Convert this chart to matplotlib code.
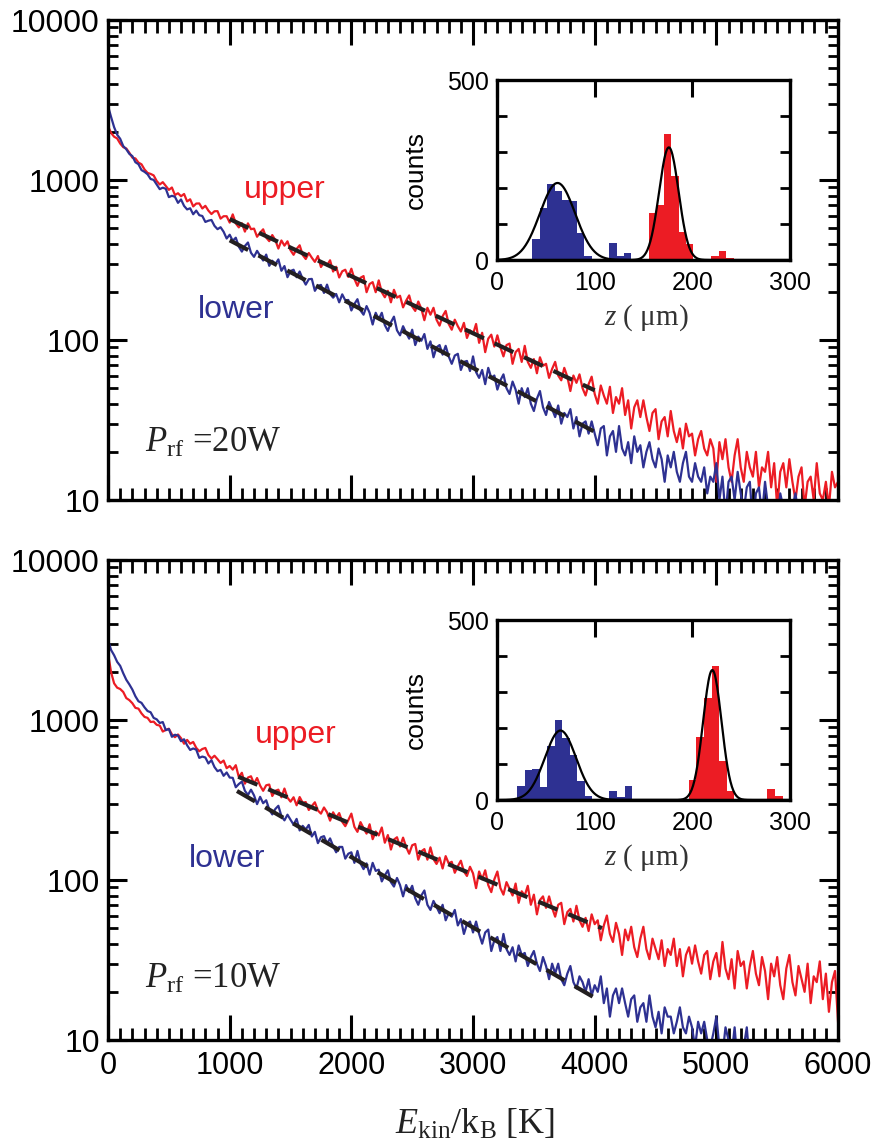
import numpy as np
import matplotlib
matplotlib.use("Agg")
import matplotlib.pyplot as plt
from matplotlib.ticker import FixedLocator, FixedFormatter, MultipleLocator, LogLocator, NullFormatter

plt.rcParams['font.family'] = ['Liberation Sans', 'DejaVu Sans']
plt.rcParams['mathtext.fontset'] = 'custom'
plt.rcParams['mathtext.rm'] = 'Liberation Serif'
plt.rcParams['mathtext.it'] = 'Liberation Serif:italic'

RED = '#ec1c24'
BLUE = '#2e3192'
DASH = '#231f20'

# kinetic energy axis, one reading every 25 K
energy = np.arange(0, 6001, 25)

# P_rf = 20 W
upper_20 = [2170, 1970, 1865, 1820, 1690, 1605, 1575, 1482, 1380, 1364,
            1286, 1254, 1164, 1108, 1092, 1069, 986, 938, 970, 917,
            868, 898, 806, 827, 792, 818, 735, 758, 684, 713,
            714, 664, 690, 644, 613, 638, 639, 574, 594, 594,
            542, 610, 536, 506, 537, 476, 536, 493, 497, 442,
            469, 492, 437, 415, 453, 421, 373, 419, 389, 414,
            364, 341, 371, 391, 340, 321, 350, 327, 308, 335,
            286, 306, 293, 315, 268, 287, 246, 269, 275, 248,
            279, 241, 218, 245, 251, 199, 224, 230, 199, 236,
            199, 185, 203, 172, 206, 184, 189, 160, 176, 190,
            162, 152, 174, 157, 133, 159, 144, 159, 134, 123,
            141, 152, 126, 116, 134, 122, 113, 128, 103, 115,
            109, 126, 96, 111, 84, 102, 108, 91, 107, 90,
            79, 93, 95, 71, 84, 88, 73, 92, 73, 67,
            76, 62, 78, 69, 71, 58, 66, 73, 60, 56,
            67, 59, 48, 60, 54, 61, 50, 45, 53, 59,
            46, 40, 52, 45, 40, 51, 35, 44, 40, 50,
            34, 42, 28, 38, 42, 33, 42, 33, 27, 35,
            37, 24, 31, 33, 25, 36, 27, 23, 28, 21,
            30, 25, 26, 19, 24, 27, 21, 19, 24, 21,
            13, 23, 18, 24, 16, 13, 19, 24, 16, 13,
            20, 16, 14, 20, 12, 16, 15, 20, 12, 17,
            9, 15, 17, 12, 18, 13, 10, 14, 16, 9,
            13, 14, 10, 17, 11, 10, 13, 9, 15, 12,
            13]
lower_20 = [2900, 2480, 2140, 1920, 1810, 1630, 1557, 1458, 1411, 1292,
            1256, 1154, 1125, 1086, 1015, 1002, 937, 877, 896, 881,
            782, 797, 786, 720, 756, 689, 655, 666, 611, 644,
            603, 596, 547, 557, 563, 517, 493, 507, 475, 431,
            455, 417, 436, 383, 357, 387, 407, 351, 331, 361,
            336, 314, 342, 291, 313, 298, 319, 271, 290, 247,
            270, 275, 247, 268, 241, 222, 240, 241, 203, 218,
            221, 197, 222, 194, 184, 194, 172, 193, 177, 178,
            153, 168, 180, 153, 144, 163, 148, 125, 148, 135,
            148, 124, 114, 129, 140, 115, 107, 122, 111, 102,
            116, 93, 105, 99, 109, 88, 98, 78, 90, 93,
            81, 92, 79, 71, 80, 82, 65, 73, 74, 64,
            79, 63, 58, 65, 53, 67, 58, 60, 49, 56,
            61, 50, 46, 55, 49, 40, 50, 44, 50, 40,
            36, 43, 48, 38, 34, 41, 37, 33, 39, 30,
            35, 33, 37, 28, 33, 25, 30, 31, 26, 31,
            26, 22, 28, 29, 19, 25, 27, 20, 29, 21,
            19, 23, 17, 25, 20, 22, 16, 20, 23, 18,
            16, 21, 18, 13, 19, 16, 20, 15, 13, 17,
            20, 14, 13, 17, 14, 13, 16, 11, 14, 13,
            17, 10, 14, 8, 13, 14, 10, 15, 11, 8.5,
            12, 13, 7, 11, 12, 8, 13, 9, 8, 10,
            7, 11, 9, 10, 7, 9, 11, 8, 7, 10,
            8, 5, 9, 8, 10, 7, 5, 8, 10, 7,
            6]

# P_rf = 10 W
upper_10 = [2610, 1990, 1695, 1593, 1562, 1497, 1371, 1332, 1273, 1191,
            1178, 1100, 1046, 1031, 972, 977, 933, 923, 847, 867,
            882, 813, 781, 812, 770, 711, 751, 711, 729, 670,
            638, 659, 669, 604, 575, 598, 569, 539, 558, 500,
            516, 490, 522, 440, 468, 400, 437, 445, 400, 434,
            389, 361, 391, 395, 335, 361, 367, 329, 373, 327,
            309, 329, 293, 330, 304, 307, 274, 290, 306, 272,
            260, 284, 265, 235, 265, 246, 262, 231, 217, 237,
            260, 215, 200, 230, 211, 195, 223, 180, 201, 190,
            213, 171, 191, 155, 179, 185, 162, 184, 161, 146,
            165, 168, 134, 151, 156, 134, 160, 135, 126, 138,
            118, 141, 127, 130, 111, 122, 132, 113, 106, 121,
            110, 89, 113, 101, 115, 93, 84, 101, 113, 89,
            81, 97, 88, 80, 95, 72, 85, 80, 92, 70,
            81, 61, 75, 79, 67, 79, 67, 59, 70, 72,
            53, 63, 66, 55, 69, 56, 51, 58, 48, 61,
            53, 56, 42, 52, 60, 46, 41, 54, 46, 34,
            49, 42, 51, 38, 33, 43, 51, 37, 32, 43,
            37, 32, 42, 29, 37, 34, 43, 29, 37, 25,
            34, 38, 30, 39, 31, 26, 34, 36, 24, 31,
            35, 25, 41, 28, 24, 32, 21, 36, 29, 31,
            21, 29, 36, 26, 22, 33, 27, 18, 30, 25,
            33, 22, 18, 28, 34, 23, 19, 29, 24, 20,
            30, 17, 25, 23, 31, 18, 26, 15, 23, 27,
            13]
lower_10 = [3170, 2740, 2540, 2310, 2180, 1960, 1785, 1670, 1550, 1407,
            1310, 1280, 1200, 1138, 1118, 1031, 1010, 958, 971, 864,
            879, 785, 809, 800, 737, 758, 695, 650, 664, 653,
            580, 591, 583, 535, 561, 508, 479, 488, 448, 470,
            437, 435, 380, 398, 412, 361, 340, 367, 338, 298,
            331, 302, 315, 276, 257, 278, 291, 251, 236, 256,
            238, 222, 241, 204, 218, 207, 221, 187, 200, 170,
            185, 188, 169, 182, 163, 149, 161, 161, 136, 146,
            149, 128, 152, 127, 117, 127, 108, 128, 114, 116,
            98, 107, 115, 97, 91, 103, 93, 79, 93, 84,
            92, 77, 70, 80, 86, 70, 65, 74, 68, 62,
            70, 56, 62, 59, 65, 52, 57, 46, 53, 55,
            47, 55, 46, 40, 47, 49, 36, 42, 44, 36,
            46, 37, 34, 38, 31, 39, 34, 35, 29, 33,
            36, 30, 27, 33, 29, 24, 30, 26, 30, 24,
            22, 26, 29, 23, 21, 25, 23, 20, 24, 19,
            22, 20, 25, 17, 21, 14, 19, 21, 17, 21,
            17, 14, 18, 19, 13, 16, 17, 13, 19, 14,
            12, 15, 11, 16, 14, 14, 11, 13, 16, 12,
            11, 14, 12, 9, 13, 11, 13, 10, 9, 11,
            14, 9, 8, 12, 10, 8, 12, 7, 10, 9,
            12, 7, 10, 6, 9, 10, 7, 10, 8, 6,
            8, 9, 5, 8, 8, 6, 9, 6, 5, 7,
            5, 8, 6, 7, 5, 6, 8, 6, 5, 7,
            6]

# exponential fits (end points)
fit_upper_20 = ([1000, 4000], [570, 48.5])
fit_lower_20 = ([1000, 4050], [420, 25.5])
fit_upper_10 = ([1070, 4060], [442, 50])
fit_lower_10 = ([1060, 4020], [360, 18])

# inset histograms of z position (bin left edges in um, counts)
bin_w = 7.7
hist_blue_20_left = [36.0, 43.6, 51.2, 58.8, 66.4, 74.0, 81.6, 89.2, 114.8, 122.4, 130.0]
hist_blue_20 = [58, 144, 211, 191, 168, 163, 76, 11, 48, 11, 20]
hist_red_20_left = [155.5, 163.1, 170.7, 178.3, 185.9, 193.5, 219.4, 227.1, 234.8]
hist_red_20 = [132, 152, 349, 234, 78, 45, 11, 25, 6]
hist_blue_10_left = [20.5, 28.2, 35.9, 43.6, 51.3, 59.0, 66.7, 74.4, 82.1, 89.8, 115.2, 122.9, 130.6]
hist_blue_10 = [40, 83, 87, 36, 150, 223, 172, 125, 53, 12, 25, 9, 40]
hist_red_10_left = [196.6, 204.3, 212.0, 219.7, 227.4, 235.1, 277.0, 284.7]
hist_red_10 = [55, 175, 283, 372, 107, 24, 30, 10]

# gaussian fits: (amplitude, centre, sigma)
gauss_blue_20 = (214, 62, 18)
gauss_red_20 = (313, 176, 10)
gauss_blue_10 = (193, 65, 16)
gauss_red_10 = (361, 220.5, 9.4)


def style_main(ax, show_xlabels):
    ax.set_yscale('log')
    ax.set_xlim(0, 6000)
    ax.set_ylim(10, 10000)
    ax.xaxis.set_major_locator(MultipleLocator(1000))
    ax.xaxis.set_minor_locator(MultipleLocator(100))
    ax.yaxis.set_major_locator(FixedLocator([10, 100, 1000, 10000]))
    ax.yaxis.set_major_formatter(FixedFormatter(['10', '100', '1000', '10000']))
    ax.yaxis.set_minor_locator(LogLocator(base=10, subs=np.arange(2, 10)))
    ax.yaxis.set_minor_formatter(NullFormatter())
    ax.tick_params(axis='x', which='major', direction='in', top=True, bottom=True,
                   length=18, width=2.2, labelsize=22, pad=8, labelbottom=show_xlabels)
    ax.tick_params(axis='x', which='minor', direction='in', top=True, bottom=True,
                   length=9, width=2.0)
    ax.tick_params(axis='y', which='major', direction='in', left=True, right=True,
                   length=14, width=2.2, labelsize=23, pad=6)
    ax.tick_params(axis='y', which='minor', direction='in', left=True, right=True,
                   length=7, width=2.0)
    for s in ax.spines.values():
        s.set_linewidth(2.4)


def style_inset(ax):
    ax.set_xlim(0, 300)
    ax.set_ylim(0, 500)
    ax.set_xticks([0, 100, 200, 300])
    ax.set_yticks([0, 100, 200, 300, 400, 500])
    ax.set_yticklabels(['0', '', '', '', '', '500'])
    ax.tick_params(axis='x', direction='in', bottom=False, top=True, length=12,
                   width=2.2, labelsize=18, pad=8)
    ax.tick_params(axis='y', direction='in', left=True, right=True, length=7,
                   width=2.0, labelsize=18, pad=6)
    for s in ax.spines.values():
        s.set_linewidth(2.4)
    ax.text(-0.276, 0.5, 'counts', transform=ax.transAxes, rotation=90,
            ha='center', va='center', fontsize=19)
    ax.text(0.51, -0.32, r'$z$ ( μm)', transform=ax.transAxes, ha='center',
            va='center', fontsize=21, family='Liberation Serif', color='#333333')


def gauss(z, p):
    a, mu, sig = p
    return a * np.exp(-(z - mu) ** 2 / (2 * sig ** 2))


fig = plt.figure(figsize=(8.79, 11.45), dpi=100)

panels = [
    (0.5633, upper_20, lower_20, fit_upper_20, fit_lower_20, '20W',
     (0.2425, 0.629), (0.1753, 0.379), 0.100, 0.7729,
     hist_blue_20_left, hist_blue_20, hist_red_20_left, hist_red_20,
     gauss_blue_20, gauss_red_20, False),
    (0.0917, upper_10, lower_10, fit_upper_10, fit_lower_10, '10W',
     (0.2575, 0.619), (0.163, 0.36), 0.108, 0.3013,
     hist_blue_10_left, hist_blue_10, hist_red_10_left, hist_red_10,
     gauss_blue_10, gauss_red_10, True),
]

zz = np.linspace(0, 300, 400)
for (bottom, up, lo, fu, fl, power, pos_u, pos_l, ptext_y, inset_b,
     hbl, hb, hrl, hr, gb, gr, show_x) in panels:
    ax = fig.add_axes([0.1229, bottom, 0.8305, 0.4192])
    ax.plot(energy, up, color=RED, lw=1.6)
    ax.plot(energy, lo, color=BLUE, lw=1.6)
    ax.plot(fu[0], fu[1], color=DASH, lw=3.0, ls=(0, (5, 2.8)), zorder=5)
    ax.plot(fl[0], fl[1], color=DASH, lw=3.0, ls=(0, (5, 2.8)), zorder=5)
    style_main(ax, show_x)
    ax.text(pos_u[0], pos_u[1], 'upper', color=RED, fontsize=23,
            transform=ax.transAxes, ha='center', va='baseline')
    ax.text(pos_l[0], pos_l[1], 'lower', color=BLUE, fontsize=23,
            transform=ax.transAxes, ha='center', va='baseline')
    ax.text(0.05, ptext_y, r'$P_{\mathrm{rf}}$ =' + power, fontsize=25,
            family='Liberation Serif', transform=ax.transAxes, ha='left',
            va='baseline', color='#222222')

    ins = fig.add_axes([0.5654, inset_b, 0.3333, 0.1572])
    ins.bar(hbl, hb, width=bin_w, align='edge', color=BLUE, lw=0)
    ins.bar(hrl, hr, width=bin_w, align='edge', color=RED, lw=0)
    ins.plot(zz, gauss(zz, gb), color='black', lw=1.6)
    ins.plot(zz, gauss(zz, gr), color='black', lw=1.6)
    style_inset(ins)

fig.text(475 / 879, 1 - 1125 / 1145, r'$E_{\mathrm{kin}}/\mathrm{k}_{\mathrm{B}}$ [K]',
         fontsize=26, family='Liberation Serif', ha='center', va='center',
         color='#222222')

fig.savefig('out.png', dpi=100)
